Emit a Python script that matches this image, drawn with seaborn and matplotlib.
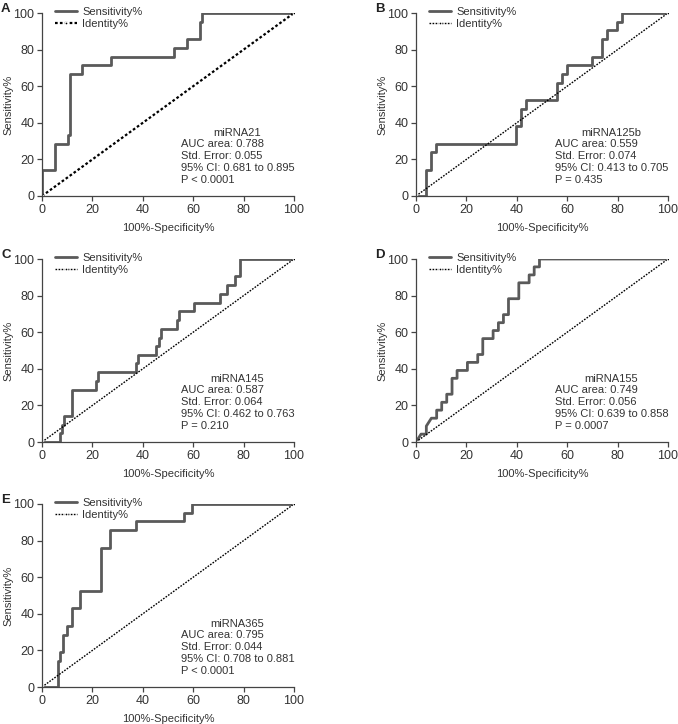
import numpy as np
import pandas as pd
import matplotlib
matplotlib.use("Agg")
import matplotlib.pyplot as plt
import seaborn as sns

# ── DATA (corner points) ──────────────────────────────────
# A - miRNA21
a_fpr = [0, 0, 5.2, 5.2, 10.2, 10.2, 11.1, 11.1, 15.9, 15.9, 27.3, 27.3,
         52.3, 52.3, 57.4, 57.4, 62.5, 62.5, 63.4, 63.4, 100]
a_tpr = [0, 14.3, 14.3, 28.6, 28.6, 33.3, 33.3, 66.7, 66.7, 71.4, 71.4, 76.2,
         76.2, 81.0, 81.0, 85.7, 85.7, 95.2, 95.2, 100, 100]

# B - miRNA125b
b_fpr = [0, 4.1, 4.1, 6.1, 6.1, 8.1, 8.1, 39.8, 39.8, 41.8, 41.8, 43.8, 43.8,
         56.0, 56.0, 57.9, 57.9, 59.9, 59.9, 70.0, 70.0, 73.9, 73.9, 75.9, 75.9,
         79.9, 79.9, 81.9, 81.9, 100]
b_tpr = [0, 0, 14.3, 14.3, 23.8, 23.8, 28.6, 28.6, 38.1, 38.1, 47.6, 47.6, 52.4,
         52.4, 61.9, 61.9, 66.7, 66.7, 71.4, 71.4, 76.2, 76.2, 85.7, 85.7, 90.5,
         90.5, 95.2, 95.2, 100, 100]

# C - miRNA145
c_fpr = [0, 7.2, 7.2, 7.9, 7.9, 8.8, 8.8, 12.0, 12.0, 21.3, 21.3, 22.2, 22.2,
         37.2, 37.2, 38.0, 38.0, 45.4, 45.4, 46.3, 46.3, 47.4, 47.4, 53.4, 53.4,
         54.5, 54.5, 60.4, 60.4, 70.6, 70.6, 73.4, 73.4, 76.5, 76.5, 78.6, 78.6, 100]
c_tpr = [0, 0, 4.8, 4.8, 9.5, 9.5, 14.3, 14.3, 28.6, 28.6, 33.3, 33.3, 38.1,
         38.1, 42.9, 42.9, 47.6, 47.6, 52.4, 52.4, 57.1, 57.1, 61.9, 61.9, 66.7,
         66.7, 71.4, 71.4, 76.2, 76.2, 81.0, 81.0, 85.7, 85.7, 90.5, 90.5, 100, 100]

# D - miRNA155
d_fpr = [0, 2.0, 4.1, 4.1, 6.1, 8.2, 8.2, 10.2, 10.2, 12.2, 12.2, 14.3, 14.3,
         16.3, 16.3, 20.4, 20.4, 24.5, 24.5, 26.5, 26.5, 30.6, 30.6, 32.7, 32.7,
         34.7, 34.7, 36.7, 36.7, 40.8, 40.8, 44.9, 44.9, 46.9, 46.9, 49.0, 49.0, 100]
d_tpr = [0, 4.3, 4.3, 8.7, 13.0, 13.0, 17.4, 17.4, 21.7, 21.7, 26.1, 26.1, 34.8,
         34.8, 39.1, 39.1, 43.5, 43.5, 47.8, 47.8, 56.5, 56.5, 60.9, 60.9, 65.2,
         65.2, 69.6, 69.6, 78.3, 78.3, 87.0, 87.0, 91.3, 91.3, 95.7, 95.7, 100, 100]

# E - miRNA365
e_fpr = [0, 6.2, 6.2, 7.1, 7.1, 8.2, 8.2, 10.1, 10.1, 12.0, 12.0, 15.1, 15.1,
         23.3, 23.3, 27.0, 27.0, 37.3, 37.3, 56.3, 56.3, 59.4, 59.4, 100]
e_tpr = [0, 0, 14.3, 14.3, 19.0, 19.0, 28.6, 28.6, 33.3, 33.3, 42.9, 42.9, 52.4,
         52.4, 76.2, 76.2, 85.7, 85.7, 90.5, 90.5, 95.2, 95.2, 100, 100]

identity = [0, 100]

letters   = ['A', 'B', 'C', 'D', 'E']
names     = ['miRNA21', 'miRNA125b', 'miRNA145', 'miRNA155', 'miRNA365']
auc       = ['0.788', '0.559', '0.587', '0.749', '0.795']
std_err   = ['0.055', '0.074', '0.064', '0.056', '0.044']
ci        = ['0.681 to 0.895', '0.413 to 0.705', '0.462 to 0.763',
             '0.639 to 0.858', '0.708 to 0.881']
p_values  = ['P < 0.0001', 'P = 0.435', 'P = 0.210', 'P = 0.0007', 'P < 0.0001']
curves    = [(a_fpr, a_tpr), (b_fpr, b_tpr), (c_fpr, c_tpr),
             (d_fpr, d_tpr), (e_fpr, e_tpr)]

# ── STYLE ─────────────────────────────────────────────────
sns.set_theme(style='ticks')
plt.rcParams['font.family'] = ['Liberation Sans', 'DejaVu Sans']
plt.rcParams['axes.linewidth'] = 0.9
plt.rcParams['axes.edgecolor'] = '#444444'
plt.rcParams['xtick.color'] = '#444444'
plt.rcParams['ytick.color'] = '#444444'
plt.rcParams['xtick.labelcolor'] = '#333333'
plt.rcParams['ytick.labelcolor'] = '#333333'

W, H = 678, 724
fig = plt.figure(figsize=(W / 100, H / 100), dpi=100)

# axes positions in pixels: (left, top)
pos = [(42, 13), (416, 13), (42, 259), (416, 259), (42, 504)]
ax_w, ax_h = 252, 183
curve_col = '#5a5a5a'
fs = 8

for i in range(5):
    left, top = pos[i]
    ax = fig.add_axes([left / W, 1 - (top + ax_h) / H, ax_w / W, ax_h / H])
    fpr, tpr = curves[i]
    df = pd.DataFrame({'fpr': fpr, 'tpr': tpr})
    sns.lineplot(data=df, x='fpr', y='tpr', sort=False, estimator=None,
                 color=curve_col, lw=2.0, label='Sensitivity%', ax=ax)
    sns.lineplot(x=identity, y=identity, sort=False, estimator=None,
                 color='black', lw=1.6 if i == 0 else 1.0,
                 linestyle=(0, (1.2, 1.0)), marker='o', markersize=2,
                 label='Identity%', ax=ax)

    ax.set_xlim(0, 100)
    ax.set_ylim(0, 100)
    ax.set_xticks(range(0, 101, 20))
    ax.set_yticks(range(0, 101, 20))
    ax.tick_params(labelsize=9, length=3.5, width=0.9, pad=2)
    ax.set_xlabel('100%-Specificity%', fontsize=fs, color='#333333', labelpad=5)
    ax.set_ylabel('Sensitivity%', fontsize=fs, color='#333333')
    ax.yaxis.set_label_coords(-29 / ax_w, 0.5)
    sns.despine(ax=ax)

    leg = ax.legend(loc='upper left', bbox_to_anchor=(0.05, 1.035), frameon=False,
                    fontsize=fs, handlelength=2.05, handletextpad=0.45,
                    labelspacing=0.2, borderpad=0, borderaxespad=0)
    for t in leg.get_texts():
        t.set_color('#333333')

    ax.text(77.5, 34.3, names[i], ha='center', va='center', fontsize=fs,
            color='#333333')
    ax.text(55.2, 31.0,
            f'AUC area: {auc[i]}\nStd. Error: {std_err[i]}\n'
            f'95% CI: {ci[i]}\n{p_values[i]}',
            ha='left', va='top', fontsize=fs, color='#333333', linespacing=1.22)

    fig.text((left - 41) / W, 1 - (top - 4) / H, letters[i], fontsize=9.5,
             fontweight='bold', ha='left', va='center', color='#222222')

fig.savefig('out.png', dpi=100)
